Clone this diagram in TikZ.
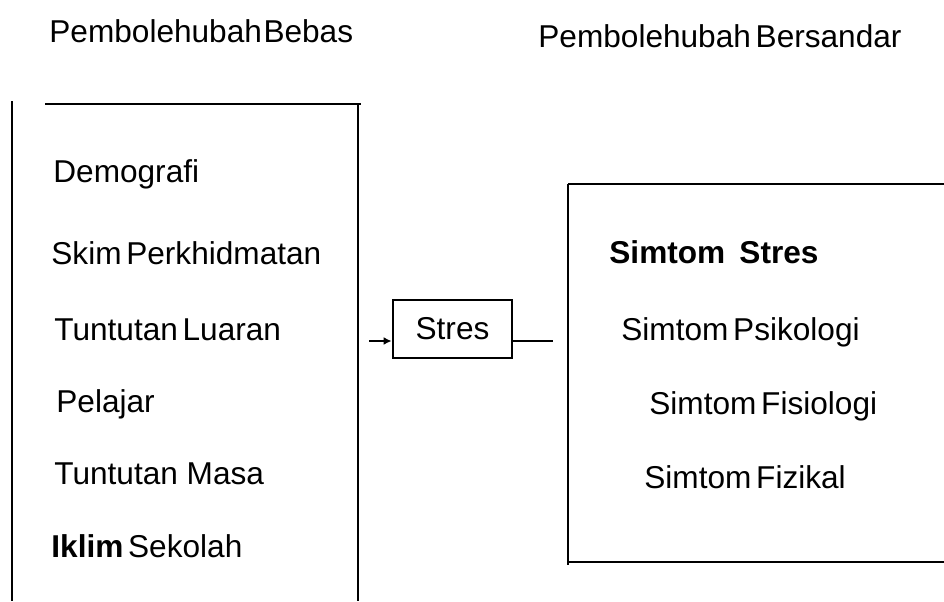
\documentclass[tikz,border=0pt]{standalone}
\usepackage{fontspec}
\setmainfont{Liberation Sans}
\usetikzlibrary{arrows.meta}

\begin{document}
\begin{tikzpicture}[x=0.5pt, y=-0.5pt, line width=1.4pt,
    every node/.style={font=\fontsize{15.8}{18}\selectfont, inner sep=0pt},
    item/.style={anchor=base west}]

    \useasboundingbox (0,0) rectangle (944,601);

    % Headings
    \node[item] (bebas) at (48,42) {Pembolehubah\hspace{0.05em}Bebas};
    \node[item] (sandar) at (537,47) {Pembolehubah\hspace{0.15em}Bersandar};

    % Left box
    \draw (12,101) -- (12,601);
    \draw (45,104) -- (361,104);
    \draw (358,104) -- (358,601);

    % Left items
    \node[item] (demo) at (52,182) {Demografi};
    \node[item] (skim) at (50,264) {Skim\hspace{0.15em}Perkhidmatan};
    \node[item] (luar) at (53,340) {Tuntutan\hspace{0.15em}Luaran};
    \node[item] (pel) at (55,412) {Pelajar};
    \node[item] (masa) at (53,484) {Tuntutan Masa};
    \node[item] (iklim) at (50,557) {\textbf{Iklim}\hspace{0.15em}Sekolah};

    % Middle box
    \node[draw, minimum width=59.5pt, minimum height=29pt] (stres) at (452.5,329) {Stres};
    \coordinate (in) at (369,341);
    \coordinate (out) at (553,341);
    \draw[-{Latex[length=4pt,width=4pt]}] (in) -- (in -| stres.west);
    \draw (out -| stres.east) -- (out);

    % Right box
    \draw (568,184) -- (944,184);
    \draw (568,184) -- (568,565);
    \draw (568,562) -- (944,562);

    % Right items
    \node[item] (simtom) at (608,263) {\textbf{Simtom\hspace{0.45em}Stres}};
    \node[item] (psiko) at (620,340) {Simtom\hspace{0.15em}Psikologi};
    \node[item] (fisio) at (648,414) {Simtom\hspace{0.15em}Fisiologi};
    \node[item] (fiz) at (643,488) {Simtom\hspace{0.15em}Fizikal};

\end{tikzpicture}
\end{document}
